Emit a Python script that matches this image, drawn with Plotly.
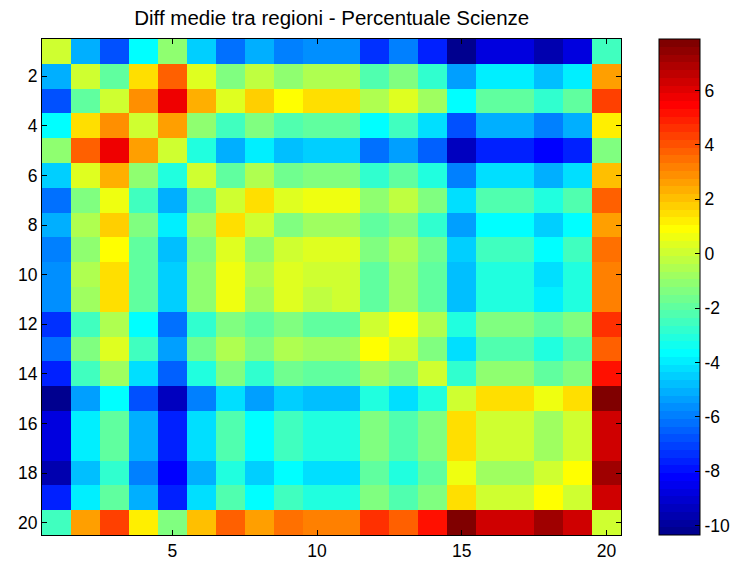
import plotly.graph_objects as go

# Regions are numbered 1..20
regions = list(range(1, 21))

# Pairwise differences of the regional means (Scienze percentage)
r01 = [0.0, -5.15, -6.75, -3.65, -1.05, -4.55, -6.35, -4.95, -5.95, -5.65, -5.65, -7.35, -5.95, -7.55, -10.35, -8.75, -8.75, -9.75, -8.75, -2.55]
r02 = [-5.15, 0.0, -1.85, 1.35, 3.65, 0.3, -1.25, -0.25, -1.15, -0.6, -0.6, -2.25, -1.35, -2.75, -5.45, -3.95, -3.95, -4.75, -3.95, 2.75]
r03 = [-6.85, -1.85, 0.0, 2.95, 5.75, 2.45, 0.45, 1.85, 0.9, 1.35, 1.35, -0.6, 0.3, -0.75, -3.65, -1.85, -1.85, -2.75, -1.85, 4.35]
r04 = [-3.65, 1.5, 3.05, 0.0, 2.6, -0.95, -2.55, -1.35, -2.15, -1.95, -2.05, -3.65, -2.55, -4.15, -6.75, -5.15, -5.15, -5.95, -5.15, 1.25]
r05 = [-1.05, 3.65, 5.75, 2.6, 0.0, -3.2, -5.15, -3.95, -4.75, -4.55, -4.55, -6.2, -5.45, -6.45, -9.45, -7.65, -7.65, -8.25, -7.65, -1.35]
r06 = [-4.55, 0.3, 2.45, -0.95, -3.2, 0.0, -1.85, -0.6, -1.65, -1.25, -1.25, -2.75, -1.85, -3.05, -5.95, -4.25, -4.25, -5.15, -4.25, 2.15]
r07 = [-6.35, -1.25, 0.7, -2.55, -4.95, -1.85, 0.0, 1.35, 0.3, 0.7, 0.7, -1.15, -0.25, -1.35, -4.15, -2.25, -2.25, -3.2, -2.25, 3.65]
r08 = [-4.95, -0.45, 1.85, -1.35, -3.95, -0.75, 1.35, 0.0, -1.25, -0.75, -0.75, -2.05, -1.25, -2.75, -5.35, -3.65, -3.65, -4.55, -3.65, 2.6]
r09 = [-5.95, -1.15, 0.9, -2.05, -4.75, -1.35, 0.3, -1.05, 0.0, 0.3, 0.35, -1.35, -0.45, -1.65, -4.55, -2.55, -2.55, -3.65, -2.55, 3.45]
r10 = [-5.65, -0.6, 1.35, -1.95, -4.55, -0.95, 0.7, -0.6, 0.3, 0.0, 0.0, -1.95, -0.75, -2.05, -4.85, -3.2, -3.2, -4.25, -3.2, 3.15]
r11 = [-5.65, -0.75, 1.35, -1.85, -4.55, -0.95, 0.7, -0.75, 0.3, -0.25, 0.0, -1.85, -0.75, -2.05, -4.85, -3.05, -3.05, -3.95, -3.05, 3.15]
r12 = [-7.35, -2.55, -0.45, -3.65, -6.15, -2.75, -1.25, -2.05, -1.35, -1.85, -1.85, 0.0, 0.9, -0.6, -3.05, -1.25, -1.25, -2.05, -1.35, 4.65]
r13 = [-6.15, -1.25, 0.35, -2.55, -5.35, -1.65, -0.45, -1.25, -0.6, -0.75, -0.75, 0.9, 0.0, -1.35, -4.15, -2.25, -2.25, -3.2, -2.25, 3.75]
r14 = [-7.55, -2.55, -0.75, -4.15, -6.45, -3.05, -1.35, -2.75, -1.65, -2.05, -2.05, -0.75, -1.35, 0.0, -2.75, -1.05, -1.05, -1.85, -1.25, 5.15]
r15 = [-10.35, -5.45, -3.65, -6.75, -9.45, -5.95, -4.25, -5.45, -4.55, -4.85, -4.85, -3.05, -4.25, -3.05, 0.0, 1.5, 1.5, 0.7, 1.5, 7.9]
r16 = [-8.75, -3.95, -1.85, -5.15, -7.65, -4.25, -2.25, -3.65, -2.55, -3.2, -3.2, -1.25, -2.25, -1.25, 1.5, 0.0, 0.0, -0.75, 0.0, 6.35]
r17 = [-8.75, -3.95, -1.85, -5.15, -7.65, -4.25, -2.25, -3.65, -2.55, -3.2, -3.2, -1.25, -2.25, -1.25, 1.5, 0.0, 0.0, -0.75, 0.0, 6.35]
r18 = [-9.75, -4.85, -2.75, -5.95, -8.25, -5.15, -3.2, -4.55, -3.65, -4.25, -4.15, -2.05, -3.2, -1.85, 0.7, -0.75, -0.75, 0.0, 0.9, 7.15]
r19 = [-7.75, -3.95, -1.85, -5.15, -7.65, -4.25, -2.25, -3.65, -2.55, -3.2, -3.05, -1.35, -2.25, -1.25, 1.5, 0.0, 0.0, 0.9, 0.0, 6.35]
r20 = [-2.55, 2.6, 4.35, 1.25, -1.35, 2.15, 3.65, 2.6, 3.45, 3.15, 3.15, 4.65, 3.75, 5.15, 7.9, 6.35, 6.35, 7.15, 6.35, 0.0]

diff_matrix = [r01, r02, r03, r04, r05, r06, r07, r08, r09, r10,
               r11, r12, r13, r14, r15, r16, r17, r18, r19, r20]

x_ticks = [5, 10, 15, 20]
y_ticks = [2, 4, 6, 8, 10, 12, 14, 16, 18, 20]
cbar_ticks = [-10, -8, -6, -4, -2, 0, 2, 4, 6]


def jet(n=64):
    """Classic 'jet' colormap sampled in n discrete levels."""
    cols = []
    for k in range(1, n + 1):
        t = k / n
        r = min(max(min(4 * t - 1.5, -4 * t + 4.5), 0), 1)
        g = min(max(min(4 * t - 0.5, -4 * t + 3.5), 0), 1)
        b = min(max(min(4 * t + 0.5, -4 * t + 2.5), 0), 1)
        cols.append("rgb(%d,%d,%d)" % (round(r * 255), round(g * 255), round(b * 255)))
    return cols


levels = jet(64)
scale = []
for i, c in enumerate(levels):
    scale.append([i / 64, c])
    scale.append([(i + 1) / 64, c])

FONT = "Liberation Sans"

# Axes box in pixels
AX_L, AX_R, AX_T, AX_B = 42, 621.5, 39, 535
W, H = 737, 563
plot_w = AX_R - AX_L
CB_L = 660           # colorbar left edge (px)
cb_x = (CB_L - AX_L) / plot_w

fig = go.Figure(
    go.Heatmap(
        z=diff_matrix,
        x=regions,
        y=regions,
        colorscale=scale,
        zsmooth=False,
        colorbar=dict(
            x=cb_x,
            xanchor="left",
            y=0.5,
            yanchor="middle",
            len=1,
            lenmode="fraction",
            thickness=41,
            thicknessmode="pixels",
            xpad=0,
            ypad=0,
            outlinewidth=1,
            outlinecolor="black",
            ticks="inside",
            ticklen=5,
            tickwidth=1,
            tickcolor="black",
            tickvals=cbar_ticks,
            ticktext=[str(v) for v in cbar_ticks],
            tickfont=dict(family=FONT, size=17.5, color="black"),
        ),
    )
)

# Matching tick marks on the left edge of the colorbar
zmin = min(min(row) for row in diff_matrix)
zmax = max(max(row) for row in diff_matrix)
for v in cbar_ticks:
    yp = (v - zmin) / (zmax - zmin)
    fig.add_shape(
        type="line", xref="paper", yref="paper",
        x0=cb_x, x1=cb_x + 5 / plot_w, y0=yp, y1=yp,
        line=dict(color="black", width=1),
    )

axis_style = dict(
    ticks="inside",
    ticklen=5,
    tickcolor="black",
    showline=True,
    linecolor="black",
    linewidth=1,
    mirror="ticks",
    showgrid=False,
    zeroline=False,
    tickfont=dict(family=FONT, size=17.5, color="black"),
)

fig.update_layout(
    width=W,
    height=H,
    margin=dict(l=AX_L, r=W - AX_R, t=AX_T, b=H - AX_B, autoexpand=False),
    paper_bgcolor="white",
    plot_bgcolor="white",
    title=dict(
        text="Diff medie tra regioni - Percentuale Scienze",
        x=(AX_L + AX_R) / 2 / W,
        xanchor="center",
        y=1 - 18 / H,
        yanchor="middle",
        yref="container",
        font=dict(family=FONT, size=20.5, color="black"),
    ),
    xaxis=dict(range=[0.5, 20.5], tickvals=x_ticks, **axis_style),
    yaxis=dict(range=[20.5, 0.5], tickvals=y_ticks, **axis_style),
)

fig.write_html("out.html")
